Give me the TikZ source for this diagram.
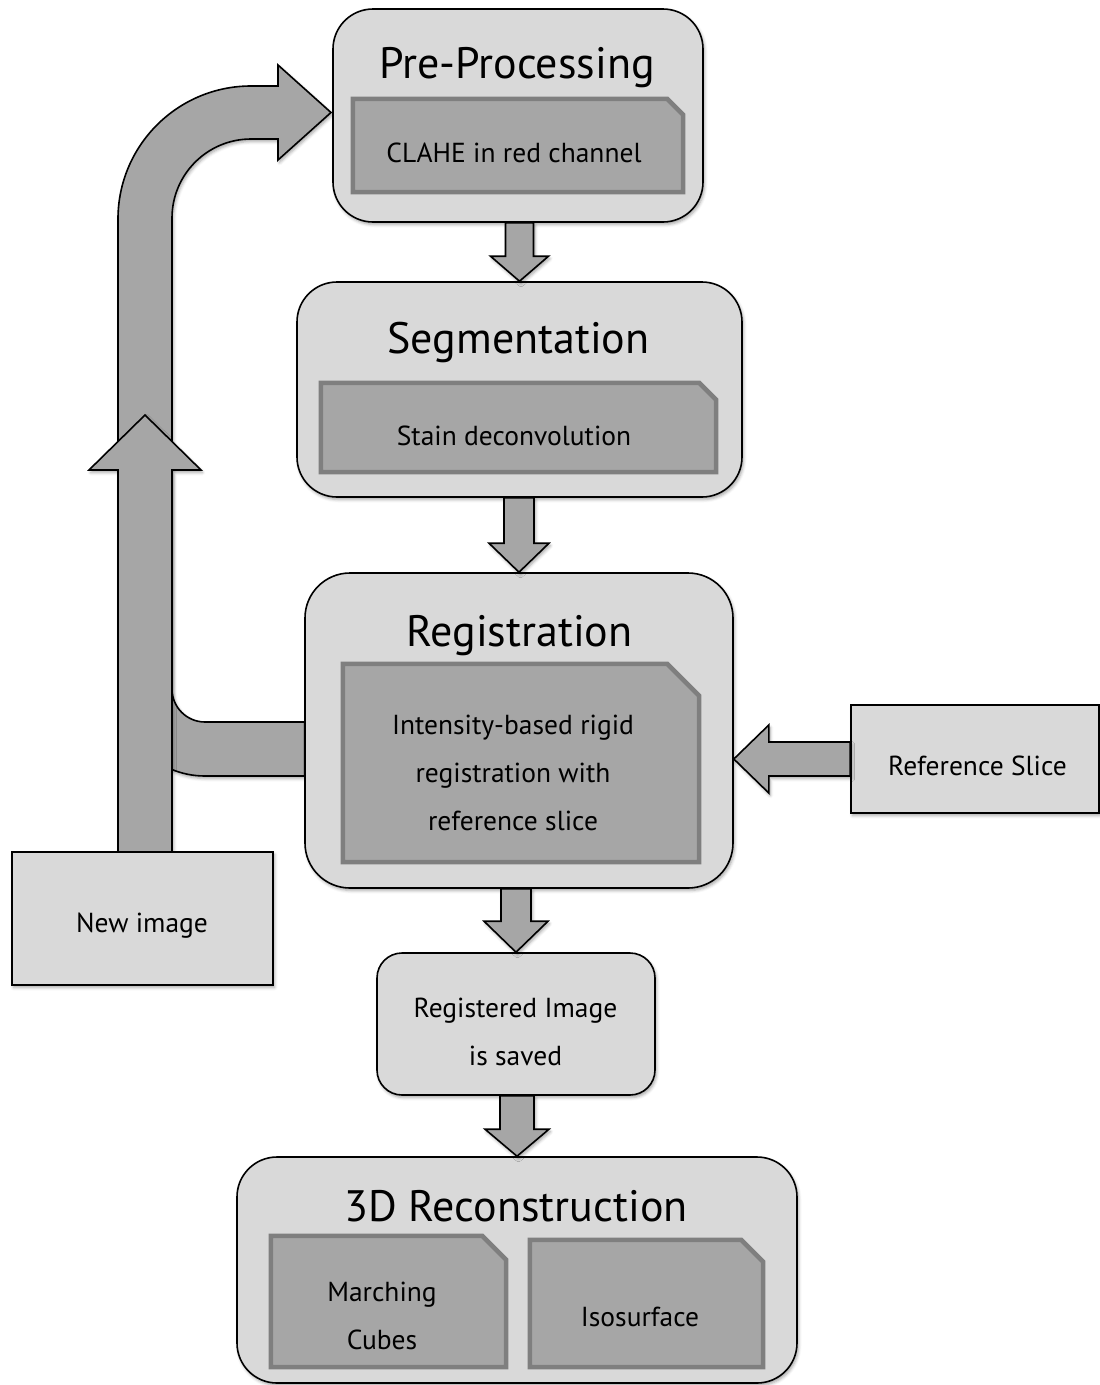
\documentclass[tikz,border=0pt]{standalone}
\usepackage{fontspec}
\setmainfont{PT Sans}
\usetikzlibrary{calc,shadows.blur}
\definecolor{boxfill}{HTML}{D9D9D9}
\definecolor{infill}{HTML}{A6A6A6}
\definecolor{inborder}{HTML}{7F7F7F}
\tikzset{
  softshadow/.style={blur shadow={shadow xshift=1.5pt, shadow yshift=-2.5pt, shadow blur radius=3pt, shadow opacity=35}},
  outerbox/.style={draw=black, line width=1.6pt, fill=boxfill, inner sep=0pt, softshadow},
  inbox/.style={draw=none, inner sep=0pt},
  inline/.style={draw=inborder, line width=4.5pt, fill=infill, line join=miter},
  titletext/.style={font=\fontsize{44}{50}\selectfont, inner sep=0pt},
  bodytext/.style={font=\fontsize{27.5}{48}\selectfont, align=center, inner sep=0pt},
  blockarrow/.style={draw=black, line width=1.6pt, fill=infill, line join=miter, softshadow},
}
% chamfered inner box drawn around a named rectangle node: #1 name, #2 chamfer
\newcommand\chamf[2]{\draw[inline] (#1.south west) -- (#1.north west) -- ([xshift=-#2pt]#1.north east) -- ([yshift=-#2pt]#1.north east) -- (#1.south east) -- cycle;}
% downward block arrow from #1 to #2: shaft half width #3, head half width #4, head length #5
\newcommand\blockdown[5]{\draw[blockarrow] let \p1=(#1), \p2=(#2) in (\x2-#3pt,\y1) -- (\x2-#3pt,\y2+#5pt) -- (\x2-#4pt,\y2+#5pt) -- (\x2,\y2) -- (\x2+#4pt,\y2+#5pt) -- (\x2+#3pt,\y2+#5pt) -- (\x2+#3pt,\y1) -- cycle;}
% leftward block arrow from #1 to #2
\newcommand\blockleft[5]{\draw[blockarrow] let \p1=(#1), \p2=(#2) in (\x1,\y1+#3pt) -- (\x2+#5pt,\y1+#3pt) -- (\x2+#5pt,\y1+#4pt) -- (\x2,\y1) -- (\x2+#5pt,\y1-#4pt) -- (\x2+#5pt,\y1-#3pt) -- (\x1,\y1-#3pt) -- cycle;}
\begin{document}
\begin{tikzpicture}[x=1pt,y=-1pt]
\useasboundingbox (0,0) rectangle (1100,1385);
% feedback loop: from Registration back to Pre-Processing
\draw[blockarrow] (305,722) -- (205,722) arc[start angle=90, end angle=180, radius=33]
  -- (172,218) arc[start angle=180, end angle=270, radius=79]
  -- (278,139) -- (278,160) -- (331,112.5) -- (278,65) -- (278,86) -- (251,86)
  arc[start angle=270, end angle=180, radius=133]
  -- (118,689) arc[start angle=180, end angle=90, radius=87] -- (305,776) -- cycle;
% new image arrow
\draw[blockarrow] (118,852) -- (118,470) -- (89,470) -- (145,415) -- (201,470) -- (172,470) -- (172,852) -- cycle;

% outer boxes
\node[outerbox, rounded corners=40pt, minimum width=370pt, minimum height=213pt] (pre) at (518,115.5) {};
\node[outerbox, rounded corners=40pt, minimum width=445pt, minimum height=215pt] (seg) at (519.5,389.5) {};
\node[outerbox, rounded corners=45pt, minimum width=428pt, minimum height=315pt] (reg) at (519,730.5) {};
\node[outerbox, rounded corners=25pt, minimum width=278pt, minimum height=142pt] (saved) at (516,1024) {};
\node[outerbox, rounded corners=40pt, minimum width=560pt, minimum height=226pt] (recon) at (517,1270) {};
\node[outerbox, minimum width=261pt, minimum height=133pt] (newimg) at (142.5,918.5) {};
\node[outerbox, minimum width=248pt, minimum height=108pt] (refsl) at (975,759) {};

% titles
\node[titletext] (pret) at (517,68) {Pre-Processing};
\node[titletext] (segt) at (518.5,342) {Segmentation};
\node[titletext] (regt) at (519.5,636) {Registration};
\node[titletext] (recont) at (516,1206) {3D Reconstruction};

% inner boxes
\node[inbox, minimum width=330pt, minimum height=93pt] (clahe) at (518,145.5) {};
\chamf{clahe}{16}
\node[inbox, minimum width=395pt, minimum height=89pt] (stain) at (518.5,427.5) {};
\chamf{stain}{17}
\node[inbox, minimum width=356pt, minimum height=198pt] (intens) at (521,763) {};
\chamf{intens}{32}
\node[inbox, minimum width=235pt, minimum height=131pt] (march) at (388.5,1301.5) {};
\chamf{march}{24}
\node[inbox, minimum width=233pt, minimum height=127pt] (iso) at (646.5,1303.5) {};
\chamf{iso}{22}

% texts
\node[bodytext] (clahet) at (514,152.6) {CLAHE in red channel};
\node[bodytext] (staint) at (514,435.6) {Stain deconvolution};
\node[bodytext] (intenst) at (513,773) {Intensity-based rigid\\registration with\\reference slice};
\node[bodytext] (savedt) at (515.5,1032) {Registered Image\\is saved};
\node[bodytext] (marcht) at (382,1315.5) {Marching\\Cubes};
\node[bodytext] (isot) at (640,1316.6) {Isosurface};
\node[bodytext] (newimgt) at (142,926) {New image};
\node[bodytext] (refslt) at (977.5,765.6) {Reference Slice};

% flow arrows
\blockdown{pre.south}{seg.north}{14}{29}{25}
\blockdown{seg.south}{reg.north}{15}{30}{29}
\blockdown{reg.south}{saved.north}{15}{32}{31}
\blockdown{saved.south}{recon.north}{17}{32}{27}
\blockleft{refsl.west}{reg.east}{17}{34}{35}
\end{tikzpicture}
\end{document}
